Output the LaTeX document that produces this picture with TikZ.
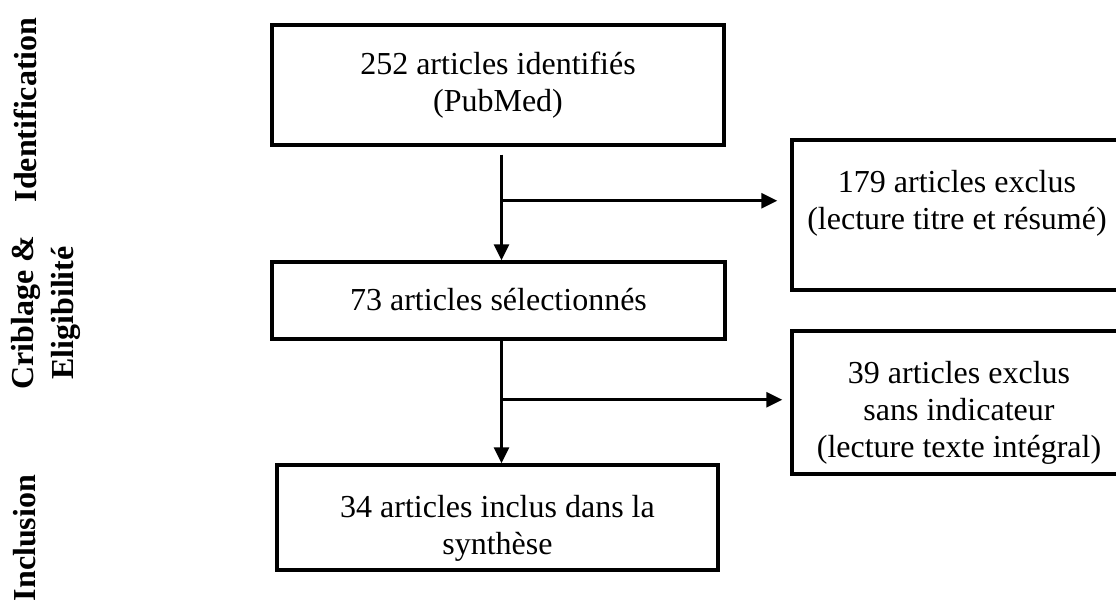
\documentclass[tikz,border=0pt]{standalone}
\usepackage{fontspec}
\setmainfont{Liberation Serif}
\usetikzlibrary{arrows.meta,calc}
\begin{document}
\begin{tikzpicture}[x=1pt,y=-1pt,
  box/.style={draw, line width=3.5pt, inner sep=0pt},
  boxtext/.style={align=center, font=\fontsize{32}{37}\selectfont, inner sep=0pt},
  phase/.style={rotate=90, align=center, font=\fontsize{32}{40}\selectfont\bfseries, inner sep=0pt},
  link/.style={line width=3pt},
  flow/.style={link, -{Triangle[length=16pt,width=15pt]}}]
\clip (0,0) rectangle (1116,604);

% phase labels on the left
\node[phase] (pident) at (25,110) {Identification};
\node[phase] (pcrib)  at (46,313) {Criblage \&\\Eligibilité};
\node[phase] (pincl)  at (25,538) {Inclusion};

% main column
\node[box, minimum width=452pt, minimum height=120pt] (ident) at (498,85) {};
\node[boxtext] (identtxt) at (498,85) {252 articles identifiés\\(PubMed)};

\node[box, minimum width=453pt, minimum height=77pt] (sel) at (498.5,300.5) {};
\node[boxtext] (seltxt) at (498.5,300) {73 articles sélectionnés};

\node[box, minimum width=441pt, minimum height=105pt] (incl) at (497.5,517.5) {};
\node[boxtext] (incltxt) at (497.5,528) {34 articles inclus dans la\\synthèse};

% exclusion boxes (run past the right edge)
\node[box, minimum width=328pt, minimum height=150pt] (excl1) at (956,215) {};
\node[boxtext] (excl1txt) at (957,203) {179 articles exclus\\(lecture titre et résumé)};

\node[box, minimum width=328pt, minimum height=143pt] (excl2) at (956,402.5) {};
\node[boxtext] (excl2txt) at (959,413) {39 articles exclus\\sans indicateur\\(lecture texte intégral)};

% connectors
\coordinate (s1) at ($(ident.south)+(3.5,8)$);
\coordinate (b1) at ($(s1)+(0,46)$);
\draw[flow] (s1) -- (s1 |- sel.north);
\draw[flow] (b1) -- ($(excl1.west |- b1)+(-13,0)$);

\coordinate (s2) at ($(sel.south)+(3,0)$);
\coordinate (b2) at ($(s2)+(0,59)$);
\draw[flow] (s2) -- (s2 |- incl.north);
\draw[flow] (b2) -- ($(excl2.west |- b2)+(-8,0)$);
\end{tikzpicture}
\end{document}
